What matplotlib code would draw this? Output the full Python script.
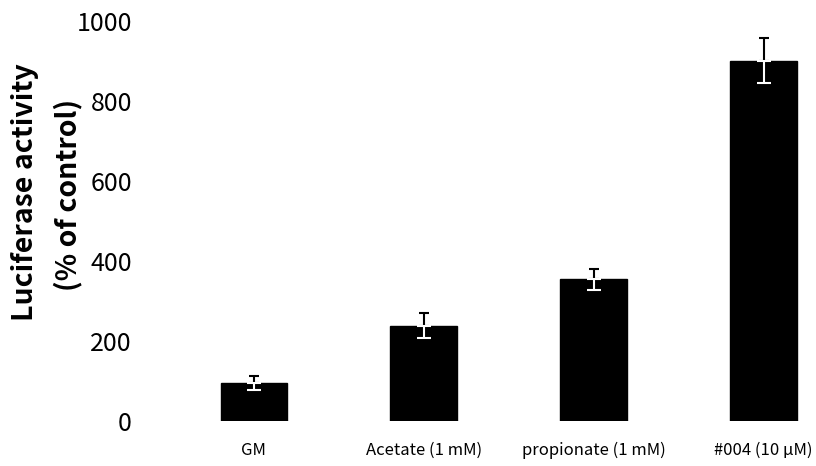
import matplotlib
matplotlib.use("Agg")
import matplotlib.pyplot as plt
import numpy as np

plt.rcParams['font.family'] = ['Noto Sans CJK KR', 'DejaVu Sans']

categories = ["GM", "Acetate (1 mM)", "propionate (1 mM)", "#004 (10 \u03bcM)"]
values = [95, 238, 354, 901]
errors = [18, 31, 26, 56]
yticks = [0, 200, 400, 600, 800, 1000]

fig = plt.figure(figsize=(8.16, 4.66), dpi=100)
ax = fig.add_axes([150/816, 45/466, 656/816, 400/466])

x = np.arange(len(categories))
ax.bar(x, values, width=0.39, color='black', edgecolor='black', linewidth=1)

# upper part of error bars (black)
ax.errorbar(x, values, yerr=[np.zeros(len(values)), errors], fmt='none',
            ecolor='black', elinewidth=1.5, capsize=3.5, capthick=1.5, zorder=3)
# lower part inside the bar (white)
ax.errorbar(x, values, yerr=[errors, np.zeros(len(values))], fmt='none',
            ecolor='white', elinewidth=1.5, capsize=5, capthick=1.5, zorder=3)

ax.set_xlim(-0.61, 3.25)
ax.set_ylim(0, 1000)
ax.set_yticks(yticks)
ax.set_yticklabels([str(t) for t in yticks], fontsize=18)
ax.set_xticks(x)
ax.set_xticklabels(categories, fontsize=12)
ax.tick_params(axis='both', length=0)
ax.tick_params(axis='y', pad=13)
ax.tick_params(axis='x', pad=15)
for s in ax.spines.values():
    s.set_visible(False)

fig.text(25/816, 1 - 192/466, "Luciferase activity", rotation=90, fontsize=20.5,
         fontweight='bold', ha='center', va='center')
fig.text(68/816, 1 - 195/466, "(% of control)", rotation=90, fontsize=20.5,
         fontweight='bold', ha='center', va='center')

fig.savefig("out.png", dpi=100)
